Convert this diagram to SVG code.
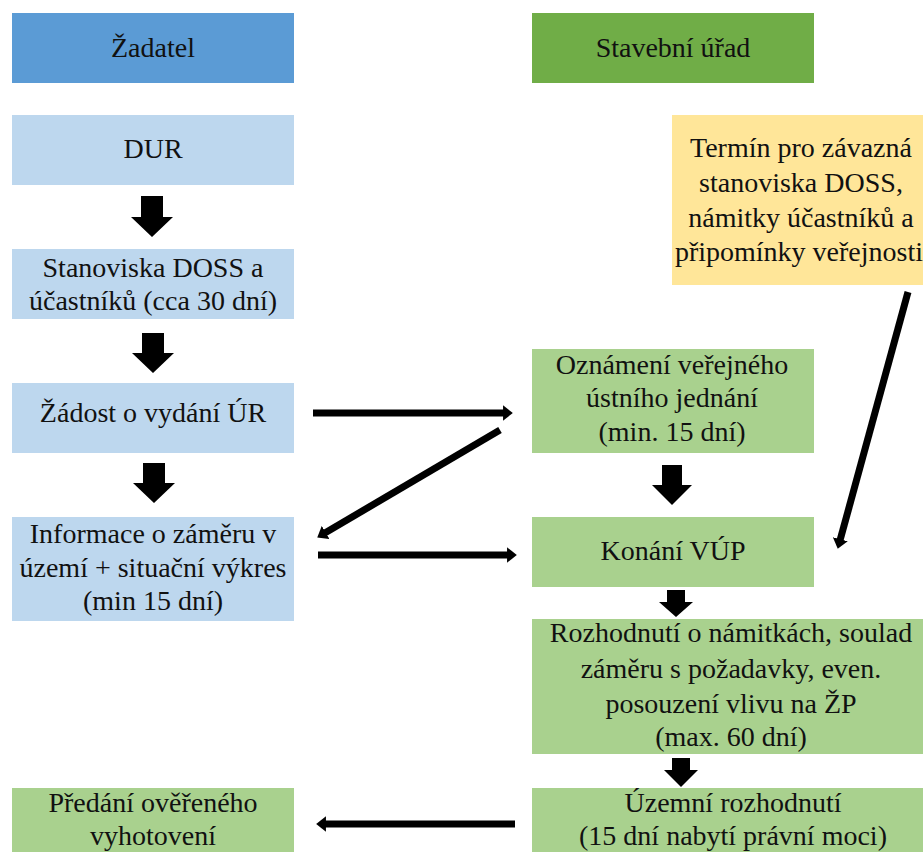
<svg xmlns="http://www.w3.org/2000/svg" width="923" height="852" viewBox="0 0 923 852">
<style>
text{font-size:28px;fill:#111;text-anchor:middle}
.hdrB{fill:#5B9BD5}.lb{fill:#BDD7EE}.hdrG{fill:#70AD47}.lg{fill:#A9D18E}.yl{fill:#FFE699}
.blk{fill:#000}
.con{stroke:#000;stroke-width:7;fill:none;marker-end:url(#ah)}
</style>
<defs>
<marker id="ah" viewBox="0 0 10 10" refX="2" refY="5" markerWidth="1.4" markerHeight="2.2" orient="auto" preserveAspectRatio="none">
<path d="M0,0 L10,5 L0,10 z" fill="#000"/>
</marker>
</defs>
<rect width="923" height="852" fill="#fff"/>
<g font-family="'Liberation Serif', 'Times New Roman', Tinos, 'DejaVu Serif', 'Noto Serif', serif">
<g id="zadatel"><rect class="hdrB" x="12" y="13" width="282" height="70"/><text x="153" y="57">Žadatel</text></g>
<g id="stavebni-urad"><rect class="hdrG" x="532" y="13" width="282" height="70"/><text x="673" y="57">Stavební úřad</text></g>

<g id="dur"><rect class="lb" x="12" y="115" width="282" height="70"/><text x="153" y="158">DUR</text></g>
<g id="stanoviska"><rect class="lb" x="12" y="249" width="282" height="70"/><text x="153" y="277">Stanoviska DOSS a</text><text x="153" y="310">účastníků (cca 30 dní)</text></g>
<g id="zadost"><rect class="lb" x="12" y="383" width="282" height="70"/><text x="153" y="422">Žádost o vydání ÚR</text></g>
<g id="informace"><rect class="lb" x="12" y="517" width="282" height="104"/><text x="153" y="543">Informace o záměru v</text><text x="153" y="577">území + situační výkres</text><text x="153" y="610">(min 15 dní)</text></g>
<g id="predani"><rect class="lg" x="12" y="788" width="282" height="70"/><text x="153" y="812">Předání ověřeného</text><text x="153" y="845">vyhotovení</text></g>

<g id="termin"><rect class="yl" x="672" y="115" width="260" height="170"/><text x="801" y="157">Termín pro závazná</text><text x="801" y="192">stanoviska DOSS,</text><text x="801" y="227">námitky účastníků a</text><text x="799" y="261">připomínky veřejnosti</text></g>
<g id="oznameni"><rect class="lg" x="532" y="349" width="282" height="104"/><text x="672" y="374">Oznámení veřejného</text><text x="672" y="407">ústního jednání</text><text x="672" y="441">(min. 15 dní)</text></g>
<g id="konani"><rect class="lg" x="532" y="517" width="282" height="70"/><text x="673" y="560">Konání VÚP</text></g>
<g id="rozhodnuti"><rect class="lg" x="532" y="619" width="398" height="135"/><text x="731" y="642">Rozhodnutí o námitkách, soulad</text><text x="731" y="678">záměru s požadavky, even.</text><text x="731" y="713">posouzení vlivu na ŽP</text><text x="731" y="746">(max. 60 dní)</text></g>
<g id="uzemni"><rect class="lg" x="532" y="788" width="398" height="70"/><text x="733" y="812">Územní rozhodnutí</text><text x="733" y="845">(15 dní nabytí právní moci)</text></g>
</g>
<g id="connectors">
<polygon class="blk" points="141,196 163,196 163,217 173,217 152,237 131,217 141,217"/>
<polygon class="blk" points="142,333 164,333 164,353 174,353 153,373 132,353 142,353"/>
<polygon class="blk" points="143,463 165,463 165,483 175,483 154,503 133,483 143,483"/>
<polygon class="blk" points="662,465 682,465 682,485 692,485 672,505 652,485 662,485"/>
<polygon class="blk" points="667,590 685,590 685,602 693,602 676,617 659,602 667,602"/>
<polygon class="blk" points="672,758 690,758 690,770 698,770 681,787 664,770 672,770"/>
<line class="con" x1="313" y1="413" x2="505" y2="413"/>
<line class="con" x1="500" y1="430" x2="324" y2="533.5"/>
<line class="con" x1="318" y1="555" x2="509" y2="555"/>
<line class="con" x1="908" y1="292" x2="839.8" y2="541.2"/>
<line class="con" x1="515" y1="824" x2="324" y2="824"/>
</g>
</svg>
